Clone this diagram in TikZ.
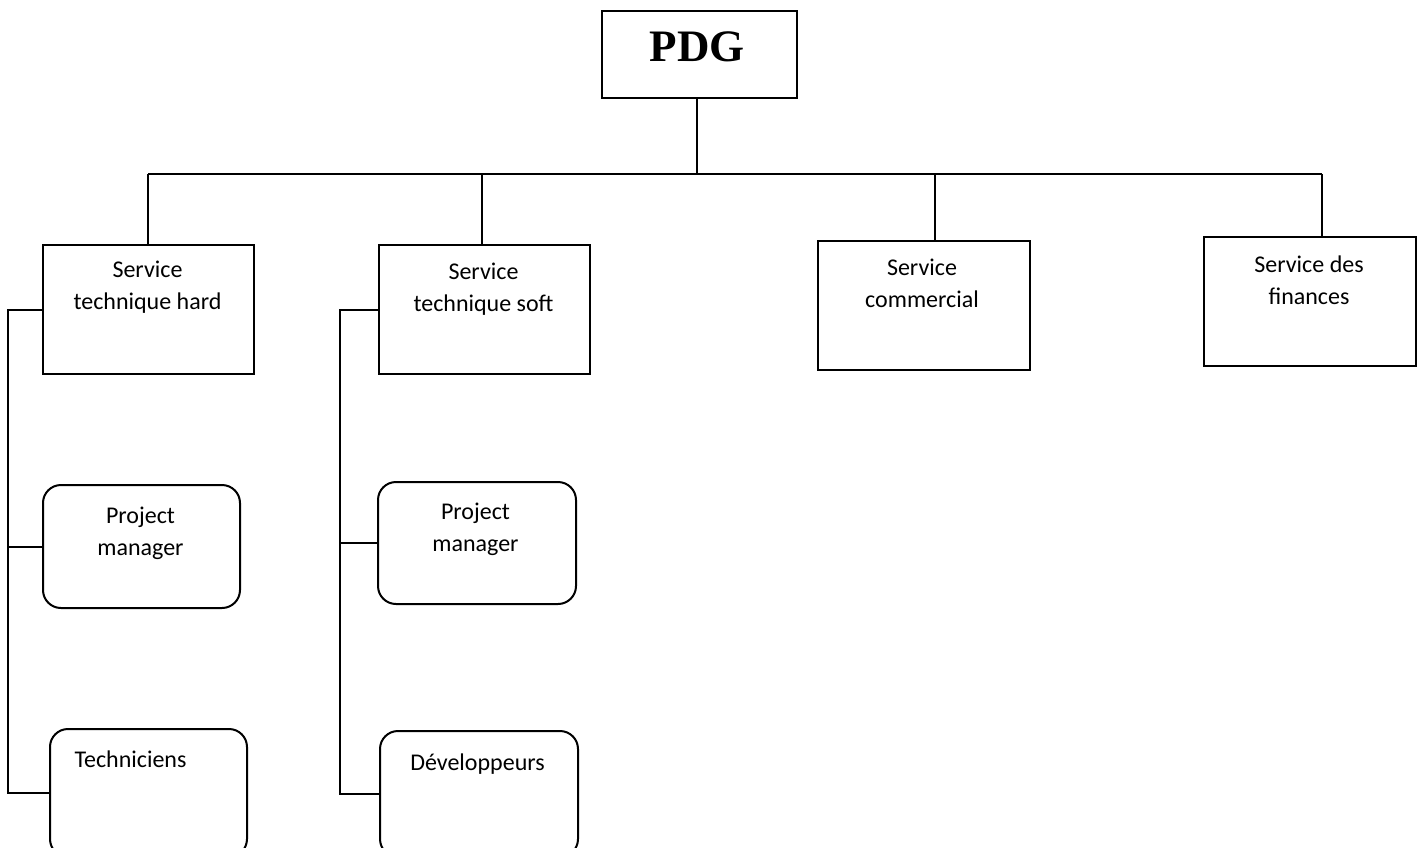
\documentclass[tikz,border=0pt]{standalone}
\usepackage{fontspec}
\setmainfont{Carlito}
\newfontfamily\pdgfont{Liberation Serif}
\begin{document}
\begin{tikzpicture}[x=0.5pt,y=-0.5pt,
  box/.style={draw, line width=1pt, inner sep=0pt, anchor=north west},
  rbox/.style={box, rounded corners=9pt},
  lbl/.style={inner sep=0pt, align=center, font=\fontsize{12}{16}\selectfont},
  con/.style={line width=1pt}]
\clip (0,0) rectangle (1418,847);
% boxes
\node[box, minimum width=97.5pt, minimum height=43.5pt] (pdg) at (601,10) {};
\node[box, minimum width=105.5pt, minimum height=64.5pt] (hard) at (42,244) {};
\node[box, minimum width=105.5pt, minimum height=64.5pt] (soft) at (378,244) {};
\node[box, minimum width=106pt, minimum height=64.5pt] (comm) at (817,240) {};
\node[box, minimum width=106pt, minimum height=64.5pt] (fin) at (1203,236) {};
\node[rbox, minimum width=98.5pt, minimum height=61.5pt] (pm1) at (42,484) {};
\node[rbox, minimum width=98.5pt, minimum height=64pt] (tech) at (49,728) {};
\node[rbox, minimum width=99pt, minimum height=61pt] (pm2) at (377,481) {};
\node[rbox, minimum width=99pt, minimum height=63pt] (dev) at (379,730) {};
% texts
\node[inner sep=0pt, font=\pdgfont\bfseries\fontsize{22.5}{26}\selectfont] (tpdg) at (697,47) {PDG};
\node[lbl] (thard) at (147.5,287) {Service\\technique hard};
\node[lbl] (tsoft) at (483.5,289) {Service\\technique soft};
\node[lbl] (tcomm) at (922,283) {Service\\commercial};
\node[lbl] (tfin) at (1309,280) {Service des\\finances};
\node[lbl] (tpm1) at (140.5,533) {Project\\manager};
\node[lbl] (tpm2) at (475.5,529) {Project\\manager};
\node[lbl] (ttech) at (130.5,759) {Techniciens};
\node[lbl] (tdev) at (477.5,764) {Développeurs};
% top connectors
\coordinate (bar) at (697,174);
\coordinate (bl) at (148,174);
\coordinate (bs) at (482,174);
\coordinate (br) at (1322,174);
\coordinate (bc) at (935,174);
\draw[con] (bar |- pdg.south) -- (bar);
\draw[con] (bl) -- (br);
\draw[con] (bl) -- (bl |- hard.north);
\draw[con] (bs) -- (bs |- soft.north);
\draw[con] (bc) -- (bc |- comm.north);
\draw[con] (br) -- (br |- fin.north);
% left trees
\coordinate (hx) at (8,0);
\coordinate (sx) at (340,0);
\draw[con] (hard.west) -- (hard.west -| hx) -- (tech.west -| hx) -- (tech.west);
\draw[con] (pm1.west -| hx) -- (pm1.west);
\draw[con] (soft.west) -- (soft.west -| sx) -- (dev.west -| sx) -- (dev.west);
\draw[con] (pm2.west -| sx) -- (pm2.west);
\end{tikzpicture}
\end{document}
